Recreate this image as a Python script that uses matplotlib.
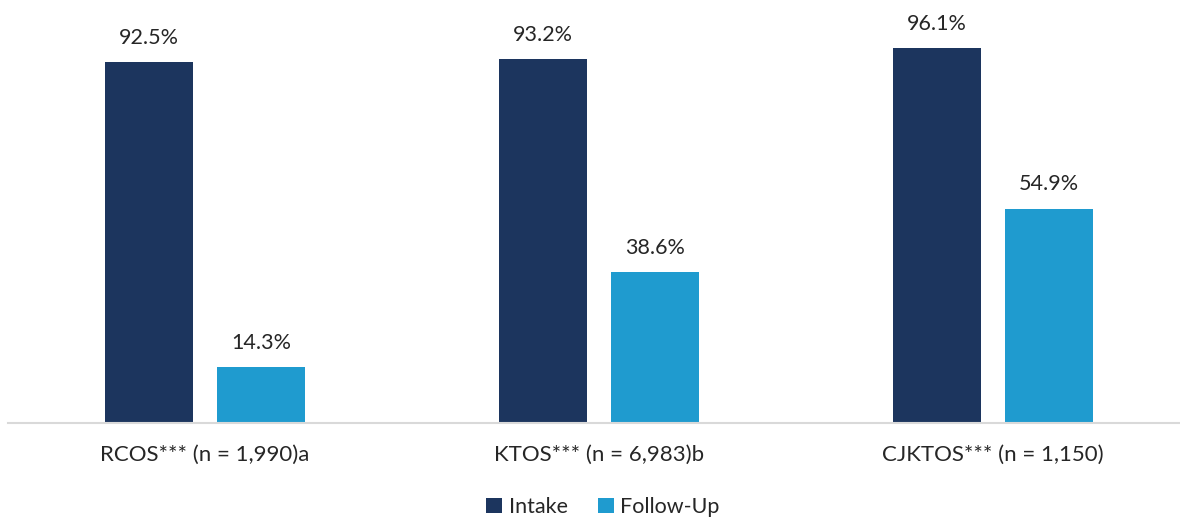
import matplotlib.pyplot as plt
import numpy as np

plt.rcParams['font.family'] = ['Lato', 'DejaVu Sans']

# Percent of clients at intake vs follow-up, by survey
groups = ['RCOS*** (n = 1,990)a', 'KTOS*** (n = 6,983)b', 'CJKTOS*** (n = 1,150)']
intake = [92.5, 93.2, 96.1]
follow_up = [14.3, 38.6, 54.9]

C_INTAKE = '#1C355E'
C_FOLLOW = '#1F9BCF'
C_TEXT = '#262626'

fig = plt.figure(figsize=(11.8, 5.18), dpi=100)
ax = fig.add_axes([8 / 1180, 95 / 518, 1172 / 1180, 423 / 518])

x = np.arange(len(groups))
w = 0.2234
off = 0.142

b1 = ax.bar(x - off, intake, w, color=C_INTAKE, label='Intake')
b2 = ax.bar(x + off, follow_up, w, color=C_FOLLOW, label='Follow-Up')

for bars, vals in [(b1, intake), (b2, follow_up)]:
    for rect, v in zip(bars, vals):
        ax.annotate(f'{v:.1f}%', (rect.get_x() + rect.get_width() / 2, v),
                    xytext=(0, 17.5), textcoords='offset points',
                    ha='center', va='center', fontsize=15.5, color=C_TEXT)

ax.set_xlim(-0.5, -0.5 + 1172 / 394)
ax.set_ylim(0, 423 / 3.903)

ax.set_xticks(x)
ax.set_xticklabels(groups, fontsize=16, color=C_TEXT)
ax.tick_params(axis='x', length=0, pad=16)
ax.set_yticks([])

for s in ['top', 'right', 'left']:
    ax.spines[s].set_visible(False)
ax.spines['bottom'].set_color('#D9D9D9')
ax.spines['bottom'].set_linewidth(1.5)

fig.legend(handles=[b1, b2], loc='center', bbox_to_anchor=(603 / 1180, 1 - 507 / 518),
           ncol=2, frameon=False, fontsize=15.5, handlelength=0.75, handleheight=0.75,
           handletextpad=0.3, columnspacing=1.4, labelcolor=C_TEXT)

fig.savefig('out.png', dpi=100)
